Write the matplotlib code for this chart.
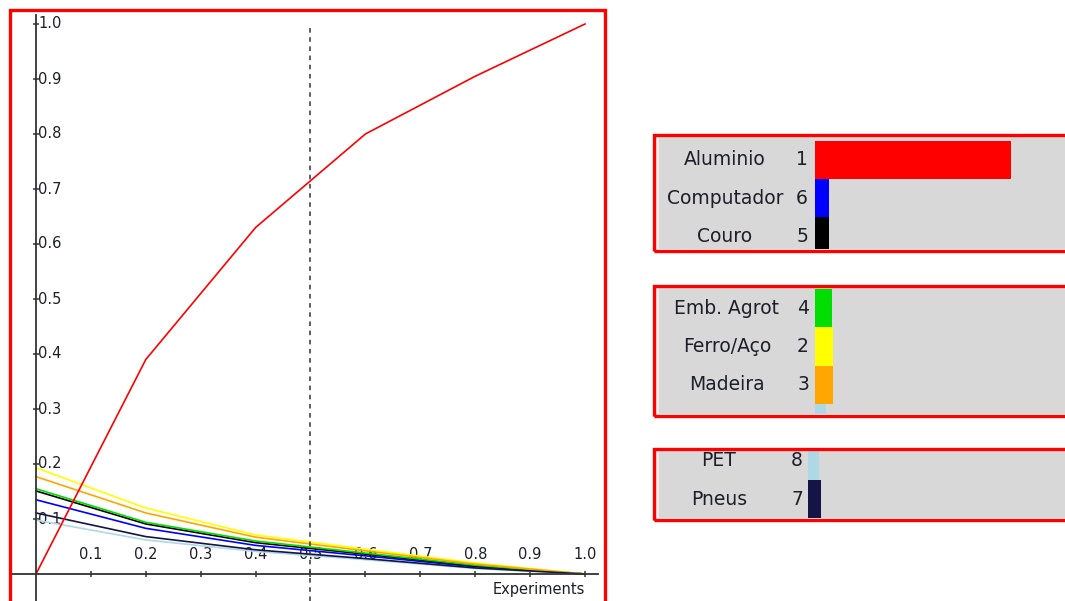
import matplotlib
matplotlib.use("Agg")
import matplotlib.pyplot as plt
from matplotlib.patches import Rectangle
import numpy as np

# ---------------- data ----------------
x_vals = [0.0, 0.2, 0.4, 0.6, 0.8, 1.0]
series_names = ["Aluminio", "Computador", "Couro", "Emb. Agrot", "Ferro/Aço", "Madeira", "PET", "Pneus"]
series_ids = ["1", "6", "5", "4", "2", "3", "8", "7"]
series_colors = ["#ff0000", "#0000ff", "#000000", "#00dd00", "#ffff00", "#ffa500", "#add8e6", "#141446"]
aluminio = [0.0, 0.39, 0.63, 0.80, 0.905, 1.0]
computador = [0.135, 0.083, 0.052, 0.033, 0.013, 0.0]
couro = [0.151, 0.091, 0.057, 0.036, 0.015, 0.0]
emb_agrot = [0.155, 0.094, 0.060, 0.038, 0.016, 0.0]
ferro_aco = [0.193, 0.120, 0.071, 0.045, 0.020, 0.0]
madeira = [0.177, 0.111, 0.067, 0.042, 0.018, 0.0]
pet = [0.098, 0.062, 0.041, 0.026, 0.010, 0.0]
pneus = [0.111, 0.068, 0.044, 0.028, 0.011, 0.0]
series_values = [aluminio, computador, couro, emb_agrot, ferro_aco, madeira, pet, pneus]
bar_values = [0.715, 0.051, 0.051, 0.061, 0.065, 0.067, 0.039, 0.046]
selected_x = 0.5
x_ticks = [0.1, 0.2, 0.3, 0.4, 0.5, 0.6, 0.7, 0.8, 0.9, 1.0]
y_ticks = [0.1, 0.2, 0.3, 0.4, 0.5, 0.6, 0.7, 0.8, 0.9, 1.0]
x_label = "Experiments"

W, H = 1065, 601
fig = plt.figure(figsize=(W / 100, H / 100), dpi=100)
fig.patch.set_facecolor("white")
TXT = "#1e1e2a"
FONT = "DejaVu Sans"


def px_axes(x0, y0, x1, y1):
    return fig.add_axes([x0 / W, 1 - y1 / H, (x1 - x0) / W, (y1 - y0) / H])


def px_rect(x0, y0, x1, y1, **kw):
    r = Rectangle((x0 / W, 1 - y1 / H), (x1 - x0) / W, (y1 - y0) / H,
                  transform=fig.transFigure, **kw)
    fig.patches.append(r)
    return r


# ---------------- line chart ----------------
X0PX, X1PX = 36, 585   # data x 0 and 1
Y0PX, Y1PX = 574, 24   # data y 0 and 1
sx = X1PX - X0PX
sy = Y0PX - Y1PX
L, T, R, B = 11, 11, 603, 601
ax = px_axes(L, T, R, B)
ax.set_zorder(2)
ax.set_xlim((L - X0PX) / sx, (R - X0PX) / sx)
ax.set_ylim((Y0PX - B) / sy, (Y0PX - T) / sy)
ax.set_facecolor("white")

for name, vals, col in zip(series_names, series_values, series_colors):
    ax.plot(x_vals, vals, color=col, lw=1.2, zorder=3 if name != "Aluminio" else 4)

ax.vlines(selected_x, (Y0PX - B) / sy, 1.0, colors="#333333", linestyles=(0, (3, 3)), lw=1.1, zorder=5)

for s in ["top", "right"]:
    ax.spines[s].set_visible(False)
ax.spines["left"].set_position(("data", 0))
ax.spines["bottom"].set_position(("data", 0))
ax.spines["left"].set_bounds((Y0PX - B) / sy, (Y0PX - 15) / sy)
ax.spines["bottom"].set_bounds((L - X0PX) / sx, (598 - X0PX) / sx)
for s in ["left", "bottom"]:
    ax.spines[s].set_color("#333333")
    ax.spines[s].set_linewidth(1.3)
    ax.spines[s].set_zorder(6)
ax.set_xticks(x_ticks)
ax.set_yticks(y_ticks)
ax.tick_params(axis="both", direction="inout", length=5, width=1.1, color="#333333",
               labelbottom=False, labelleft=False)
for t in x_ticks:
    ax.annotate(f"{t:.1f}", (t, 0), xytext=(0, 12), textcoords="offset pixels",
                ha="center", va="bottom", fontsize=10.5, color=TXT, family=FONT, zorder=2)
for t in y_ticks:
    ax.annotate(f"{t:.1f}", (0, t), xytext=(2, 0), textcoords="offset pixels",
                ha="left", va="center", fontsize=10.5, color=TXT, family=FONT, zorder=2)
ax.annotate(x_label, (1.0, 0), xytext=(0, -8), textcoords="offset pixels",
            ha="right", va="top", fontsize=10.5, color=TXT, family=FONT)

px_rect(9.5, 9.5, 604.5, 640, fill=False, edgecolor="#ff0000", lw=2.4, zorder=10)


# ---------------- bar list panels ----------------
SCALE = 274.0  # px per unit
ROW = 38.3


def panel(top, bottom, idx, first_row_top, zero_px, name_cx, id_rx):
    inner_l, inner_r = 655, 1065
    px_rect(inner_l, top, 1080, bottom, facecolor="#d8d8d8", edgecolor="none", zorder=-2)
    px_rect(inner_l, top, inner_l + 4, bottom, facecolor="#ececec", edgecolor="none", zorder=-1)
    a = px_axes(inner_l, top, inner_r, bottom)
    a.set_zorder(2)
    a.set_facecolor("none")
    a.set_xlim(-(zero_px - inner_l) / SCALE, (inner_r - zero_px) / SCALE)
    # rows: row k spans [k-0.5, k+0.5]
    ytop = -0.5 - (first_row_top - top) / ROW
    ybot = ytop + (bottom - top) / ROW
    a.set_ylim(ybot, ytop)
    rows = np.arange(len(idx))
    a.barh(rows, [bar_values[i] for i in idx], height=1.0, left=0,
           color=[series_colors[i] for i in idx], edgecolor="none")
    tr = a.get_yaxis_transform()
    fx = lambda p: (p - inner_l) / (inner_r - inner_l)
    for r, i in zip(rows, idx):
        a.text(fx(name_cx), r, series_names[i], transform=tr, ha="center", va="center",
               fontsize=13.5, color=TXT, family=FONT, clip_on=True)
        a.text(fx(id_rx), r, series_ids[i], transform=tr, ha="right", va="center",
               fontsize=13.5, color=TXT, family=FONT, clip_on=True)
    a.axis("off")
    px_rect(653.5, top - 1.5, 1080, bottom + 1.5, fill=False, edgecolor="#ff0000", lw=2.4, zorder=10)
    return a


panel(136, 249, [0, 1, 2], 140.7, 815, 725, 808)
panel(287, 414, [3, 4, 5, 6], 289, 815, 727, 809)
panel(450, 518, [6, 7], 451 - (ROW - 29), 808, 719, 803)

fig.savefig("out.png", dpi=100, facecolor="white")
